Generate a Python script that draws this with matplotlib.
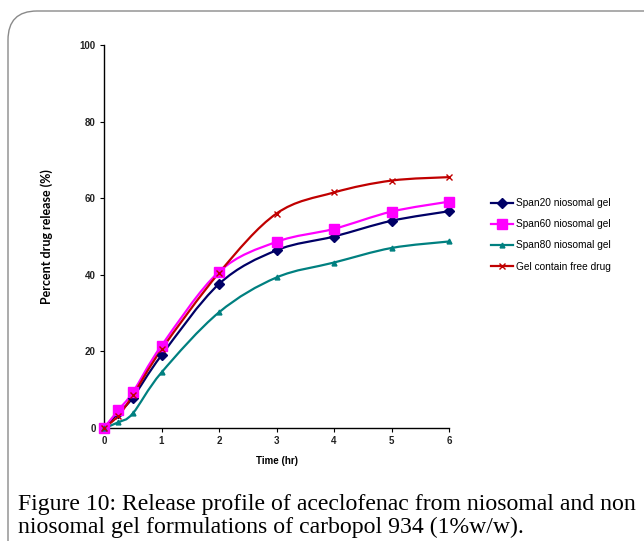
import numpy as np
import matplotlib
matplotlib.use("Agg")
import matplotlib.pyplot as plt
from matplotlib.path import Path
from matplotlib.patches import PathPatch, FancyBboxPatch
from matplotlib.lines import Line2D

# data
time_hr = [0, 0.25, 0.5, 1, 2, 3, 4, 5, 6]
span20 = [0, 4.0, 7.9, 19.0, 37.6, 46.4, 50.0, 54.1, 56.6]
span60 = [0, 4.7, 9.3, 21.5, 40.8, 48.6, 52.0, 56.5, 59.1]
span80 = [0, 1.5, 3.8, 14.5, 30.2, 39.3, 43.2, 47.0, 48.7]
free_drug = [0, 3.2, 8.5, 20.5, 40.5, 56.0, 61.5, 64.6, 65.5]

labels = ["Span20 niosomal gel", "Span60 niosomal gel",
          "Span80 niosomal gel", "Gel contain free drug"]
colors = ["#000066", "#FF00FF", "#008080", "#C00000"]
markers = ["D", "s", "^", "x"]
msizes = [5, 7, 3.5, 5]

caption_lines = ["Figure 10: Release profile of aceclofenac from niosomal and non",
                 "niosomal gel formulations of carbopol 934 (1%w/w)."]


def smooth_path(x, y):
    """Excel-like smoothed line: Catmull-Rom converted to cubic Bezier."""
    p = np.column_stack([x, y]).astype(float)
    pts = np.vstack([p[0], p, p[-1]])
    verts = [p[0]]
    codes = [Path.MOVETO]
    for i in range(1, len(pts) - 2):
        c1 = pts[i] + (pts[i + 1] - pts[i - 1]) / 6
        c2 = pts[i + 1] - (pts[i + 2] - pts[i]) / 6
        verts += [c1, c2, pts[i + 1]]
        codes += [Path.CURVE4] * 3
    return Path(verts, codes)


W, H = 644, 541
fig = plt.figure(figsize=(W / 100, H / 100), dpi=100)

# rounded frame around the figure
frame = FancyBboxPatch((8 / W, -0.2), 1.2, (H - 11) / H + 0.2,
                       boxstyle="round,pad=0,rounding_size=0.045",
                       transform=fig.transFigure, fill=False,
                       edgecolor="#8a8a8a", linewidth=1.0,
                       mutation_aspect=W / H)
fig.patches.append(frame)

ax = fig.add_axes([104 / W, (H - 428) / H, 345 / W, 383 / H])
series = [span20, span60, span80, free_drug]
for yv, c, m, ms in zip(series, colors, markers, msizes):
    ax.add_patch(PathPatch(smooth_path(time_hr, yv), fill=False,
                           edgecolor=c, linewidth=1.6, zorder=2))
    ax.plot(time_hr, yv, linestyle="none", marker=m, color=c,
            markersize=ms, markeredgewidth=1.0, zorder=3, clip_on=False)

ax.set_xlim(0, 6)
ax.set_ylim(0, 100)
ax.set_xticks(range(0, 7))
ax.set_yticks(range(0, 101, 20))
for s in ["top", "right"]:
    ax.spines[s].set_visible(False)
for s in ["left", "bottom"]:
    ax.spines[s].set_linewidth(1.0)
ax.tick_params(direction="out", length=3, width=0.8, labelsize=7, pad=3)
for t in ax.get_xticklabels() + ax.get_yticklabels():
    t.set_fontfamily("Liberation Sans")
    t.set_fontweight("bold")
    t.set_color("#222222")

ax.set_xlabel("Time (hr)", fontsize=7, fontweight="bold",
              fontfamily="Liberation Sans", labelpad=7)
ax.set_ylabel("Percent drug release (%)", fontsize=9, fontweight="bold",
              fontfamily="Lato", labelpad=19)

handles = [Line2D([], [], color=c, marker=m, markersize=ms, linewidth=1.6)
           for c, m, ms in zip(colors, markers, msizes)]
fig.legend(handles, labels, loc="upper left",
           bbox_to_anchor=(482 / W, 1 - 189 / H), frameon=False,
           prop={"family": "Liberation Sans", "size": 7.3},
           handlelength=2.2, handletextpad=0.3, labelspacing=1.1)

for i, line in enumerate(caption_lines):
    fig.text(18 / W, 1 - (510 + 23 * i) / H, line, fontsize=17.1,
             fontfamily="Liberation Serif", va="baseline", ha="left")

fig.savefig("out.png", dpi=100)
